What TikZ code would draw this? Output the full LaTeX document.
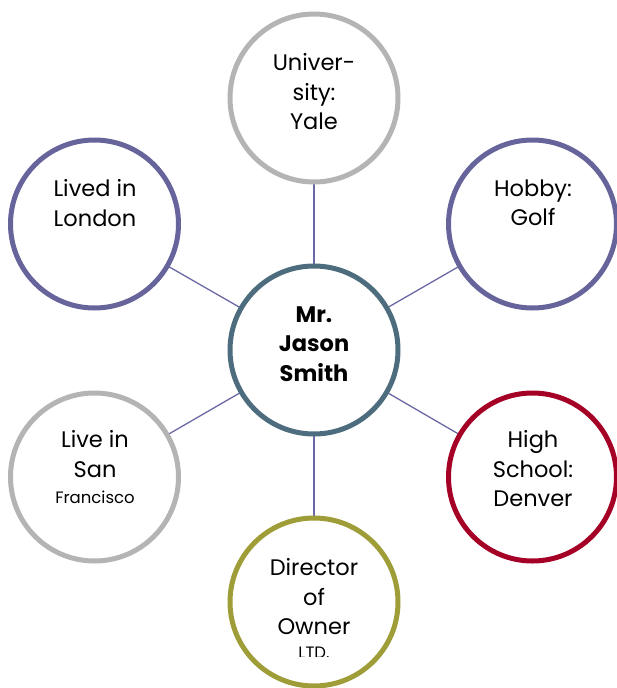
\documentclass[tikz,border=0pt]{standalone}
\usepackage{fontspec}
\setmainfont{Poppins}
\definecolor{cgray}{HTML}{B4B4B4}
\definecolor{cpurple}{HTML}{67649C}
\definecolor{cblue}{HTML}{4D6D7F}
\definecolor{cred}{HTML}{A50026}
\definecolor{colive}{HTML}{9E9D38}
\definecolor{cline}{HTML}{6B68A6}
\begin{document}
\begin{tikzpicture}[x=1pt,y=-1pt,
  ring/.style={circle,draw=#1,line width=5pt,fill=white,minimum size=168pt,inner sep=0pt},
  link/.style={draw=cline,line width=1.3pt},
  txt/.style={align=center,font=\fontsize{22.5}{29.5}\selectfont,inner sep=0pt},
  small/.style={align=center,font=\fontsize{16.5}{18}\selectfont,inner sep=0pt}]
\useasboundingbox (0,0) rectangle (616,688);
\coordinate (pc) at (314,350);
\coordinate (pt) at (314,98);
\coordinate (pul) at (94.5,224);
\coordinate (pur) at (532.5,224);
\coordinate (pll) at (94.5,477);
\coordinate (plr) at (532.5,477);
\coordinate (pb) at (314,602);
\draw[link] (pc) -- (pt);
\draw[link] (pc) -- (pul);
\draw[link] (pc) -- (pur);
\draw[link] (pc) -- (pll);
\draw[link] (pc) -- (plr);
\draw[link] (pc) -- (pb);
\node[ring=cblue] (c) at (pc) {};
\node[ring=cgray] (t) at (pt) {};
\node[ring=cpurple] (ul) at (pul) {};
\node[ring=cpurple] (ur) at (pur) {};
\node[ring=cgray] (ll) at (pll) {};
\node[ring=cred] (lr) at (plr) {};
\node[ring=colive] (b) at (pb) {};
\node[txt,font=\fontsize{22.5}{29.5}\selectfont\bfseries] (tc) at (314,344) {Mr.\\Jason\\Smith};
\node[txt] (tt) at (314,92) {Univer-\\sity:\\Yale};
\node[txt] (tul) at (95,203) {Lived in\\London};
\node[txt] (tur) at (533,203) {Hobby:\\Golf};
\node[txt] (tll) at (95,454) {Live in\\San};
\node[small] (tll2) at (95,497) {Francisco};
\node[txt] (tlr) at (533,469) {High\\School:\\Denver};
\node[txt] (tb) at (314,597) {Director\\of\\Owner};
\begin{scope}
\clip (250,630) rectangle (380,656.3);
\node[small] (tb2) at (314,653) {LTD.};
\end{scope}
\end{tikzpicture}
\end{document}
